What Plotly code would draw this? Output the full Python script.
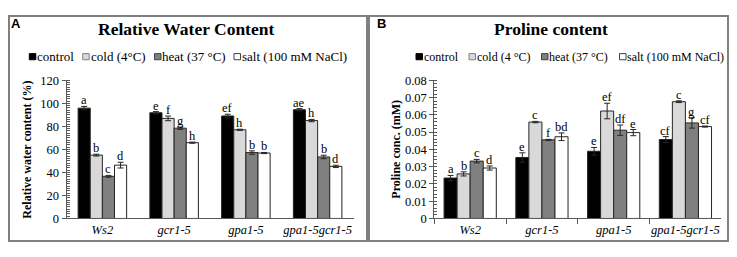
import plotly.graph_objects as go

# ---------------- data ----------------
genotypes = ["Ws2", "gcr1-5", "gpa1-5", "gpa1-5gcr1-5"]
treatments_a = ["control", "cold (4°C)", "heat (37 °C)", "salt (100 mM NaCl)"]
treatments_b = ["control", "cold (4 °C)", "heat (37 °C)", "salt (100 mM NaCl)"]

# Relative water content (%)
rwc_control = [95.8, 91.8, 89.0, 94.4]
rwc_cold = [55.0, 86.9, 77.0, 85.0]
rwc_heat = [36.6, 78.4, 57.2, 53.4]
rwc_salt = [46.3, 65.8, 56.8, 45.2]
rwc_control_err = [1.5, 1.0, 1.5, 1.0]
rwc_cold_err = [0.8, 2.0, 0.5, 1.0]
rwc_heat_err = [0.8, 1.0, 1.5, 1.5]
rwc_salt_err = [2.5, 0.5, 0.5, 1.0]
rwc_control_lab = ["a", "e", "ef", "ae"]
rwc_cold_lab = ["b", "f", "h", "h"]
rwc_heat_lab = ["c", "g", "b", "b"]
rwc_salt_lab = ["d", "h", "b", "d"]

# Proline content (mM)
pro_control = [0.0234, 0.0353, 0.0389, 0.0457]
pro_cold = [0.0258, 0.0558, 0.0622, 0.0676]
pro_heat = [0.0332, 0.0455, 0.0511, 0.0553]
pro_salt = [0.0292, 0.0473, 0.0497, 0.0532]
pro_control_err = [0.0015, 0.0027, 0.0022, 0.0017]
pro_cold_err = [0.0012, 0.0004, 0.0045, 0.0005]
pro_heat_err = [0.0010, 0.0003, 0.0030, 0.0030]
pro_salt_err = [0.0012, 0.0022, 0.0018, 0.0003]
pro_control_lab = ["a", "e", "e", "cf"]
pro_cold_lab = ["b", "c", "ef", "c"]
pro_heat_lab = ["c", "f", "df", "g"]
pro_salt_lab = ["d", "bd", "e", "cf"]

rwc_ticks = [0, 20, 40, 60, 80, 100, 120]
pro_ticks = [0, 0.01, 0.02, 0.03, 0.04, 0.05, 0.06, 0.07, 0.08]

# ---------------- style ----------------
# The page adds an 8 px body margin, so the figure is 16 px smaller than the
# 737x257 window and all positions below are given in window pixels.
PAD = 8
W, H = 737 - 2 * PAD, 257 - 2 * PAD
colors = ["#000000", "#d9d9d9", "#808080", "#ffffff"]
serif = "Liberation Serif"
sans = "Liberation Sans"
axis_col = "#595959"


def px(x):
    return (x - PAD) / W


def py(y):
    return 1 - (y - PAD) / H


fig = go.Figure()

panels = [
    dict(xa="x", ya="y", width=0.169,
         vals=[rwc_control, rwc_cold, rwc_heat, rwc_salt],
         errs=[rwc_control_err, rwc_cold_err, rwc_heat_err, rwc_salt_err],
         labs=[rwc_control_lab, rwc_cold_lab, rwc_heat_lab, rwc_salt_lab],
         names=treatments_a),
    dict(xa="x2", ya="y2", width=0.182,
         vals=[pro_control, pro_cold, pro_heat, pro_salt],
         errs=[pro_control_err, pro_cold_err, pro_heat_err, pro_salt_err],
         labs=[pro_control_lab, pro_cold_lab, pro_heat_lab, pro_salt_lab],
         names=treatments_b),
]

annotations = []
for p in panels:
    w = p["width"]
    for i in range(4):
        fig.add_trace(go.Bar(
            x=genotypes, y=p["vals"][i], name=p["names"][i],
            width=w, offset=(i - 2) * w,
            marker=dict(color=colors[i], line=dict(color="#262626", width=1)),
            error_y=dict(type="data", array=p["errs"][i], visible=True,
                         color="#262626", thickness=1, width=3),
            xaxis=p["xa"], yaxis=p["ya"], showlegend=False,
        ))
        for j in range(4):
            annotations.append(dict(
                x=j + (i - 1.5) * w, y=p["vals"][i][j] + p["errs"][i][j],
                xref=p["xa"], yref=p["ya"], text=p["labs"][i][j],
                showarrow=False, yanchor="bottom", xanchor="center",
                yshift=-3, font=dict(family=serif, size=12.5, color="#000000"),
            ))

ydom = [py(224), py(77.3)]
common_y = dict(showgrid=False, zeroline=False, showline=True, linecolor=axis_col,
                linewidth=1, ticks="outside", ticklen=4, tickcolor=axis_col,
                tickfont=dict(family=serif, size=12.5, color="#000000"),
                domain=ydom)
# companion axes that draw the inner half of the crossing major ticks
inner_y = dict(showgrid=False, zeroline=False, showline=False, ticks="inside",
               ticklen=3, tickcolor=axis_col, showticklabels=False, domain=ydom)
common_x = dict(showgrid=False, zeroline=False, showline=True, linecolor=axis_col,
                linewidth=1, tickangle=0,
                tickfont=dict(family=serif, size=12.5, color="#000000", style="italic"),
                type="category", categoryorder="array", categoryarray=genotypes)

fig.update_layout(
    width=W, height=H, margin=dict(l=0, r=0, t=0, b=0),
    paper_bgcolor="white", plot_bgcolor="white", barmode="overlay",
    xaxis=dict(common_x, domain=[px(66.5), px(353.5)], anchor="y", ticks="",
               range=[-0.5, 3.5]),
    yaxis=dict(common_y, anchor="x", range=[0, 120], tickvals=rwc_ticks,
               minor=dict(dtick=2, ticks="inside", ticklen=3, tickcolor=axis_col)),
    xaxis2=dict(common_x, domain=[px(434.3), px(721.3)], anchor="y2",
                ticks="outside", tickson="boundaries", ticklen=5, tickcolor=axis_col,
                range=[-0.5, 3.5]),
    yaxis2=dict(common_y, anchor="x2", range=[0, 0.08], tickvals=pro_ticks,
                tickformat=".2~f",
                minor=dict(dtick=0.002, ticks="inside", ticklen=3, tickcolor=axis_col)),
    yaxis3=dict(inner_y, anchor="x", overlaying="y", range=[0, 120], tickvals=rwc_ticks),
    yaxis4=dict(inner_y, anchor="x2", overlaying="y2", range=[0, 0.08], tickvals=pro_ticks),
)


def ann(x, y, text, size, family=serif, angle=0, xanchor="center"):
    return dict(x=px(x), y=py(y), xref="paper", yref="paper", text=text,
                showarrow=False, xanchor=xanchor, yanchor="middle", textangle=angle,
                font=dict(family=family, size=size, color="#000000"))


# titles, panel letters, y titles
annotations += [
    ann(186, 23, "<b>Relative Water Content</b>", 17.5),
    ann(551, 23, "<b>Proline content</b>", 17.5),
    ann(16, 17, "<b>A</b>", 13, family=sans),
    ann(381, 17, "<b>B</b>", 13, family=sans),
    ann(27, 151, "<b>Relative water content (%)</b>", 12, angle=-90),
    ann(396, 151, "<b>Proline conc. (mM)</b>", 12, angle=-90),
]

shapes = [
    dict(type="rect", xref="paper", yref="paper", x0=px(9), x1=px(367), y0=py(248), y1=py(9),
         line=dict(color="#808080", width=2)),
    dict(type="rect", xref="paper", yref="paper", x0=px(369), x1=px(728), y0=py(248), y1=py(9),
         line=dict(color="#808080", width=2)),
]

# manual legends (squares + text)
legend_a_x = [29.3, 82.7, 154.5, 234.0]
legend_b_x = [416.0, 469.0, 541.5, 619.5]
border_cols = ["#000000", "#7f7f7f", "#404040", "#404040"]
for xs, names, fs in [(legend_a_x, treatments_a, 13), (legend_b_x, treatments_b, 12)]:
    for i, (x0, nm) in enumerate(zip(xs, names)):
        shapes.append(dict(type="rect", xref="paper", yref="paper",
                           x0=px(x0), x1=px(x0 + 6.5), y0=py(55.5), y1=py(49),
                           fillcolor=colors[i], line=dict(color=border_cols[i], width=1)))
        a = ann(x0 + 6.8, 52.3, nm, fs, xanchor="left")
        a["borderpad"] = 0
        annotations.append(a)

fig.update_layout(annotations=annotations, shapes=shapes)
fig.write_html("out.html")
